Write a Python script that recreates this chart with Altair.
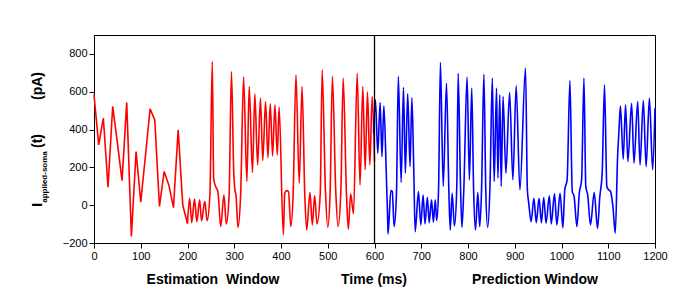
import altair as alt
import pandas as pd

# ---- data ----
# Estimation window, coarse part (0-200 ms, piecewise linear)
est_coarse_t = [0, 10, 20, 30, 40, 50, 60, 70, 80, 90, 100, 110, 120, 130, 140, 150, 160, 170, 180, 190, 200]
est_coarse_v = [584, 319, 460, 95, 522, 330, 130, 543, -166, 284, 16, 260, 509, 451, -7, 178, 107, -13, 398, -2, -97]

# Estimation window, smooth part (200-600 ms)
est_t = [200, 204.6, 209, 215, 220, 226, 230, 237, 242, 248, 253, 256, 260, 265, 271, 278, 283, 289, 294,
         299, 301, 304, 308, 314, 320, 327, 332, 339, 344, 350, 356, 361, 367, 372, 377, 382, 387, 392, 396,
         405, 408, 412, 416, 421, 426, 432, 439, 445, 451, 455, 462, 467, 472, 477, 484, 488, 495, 500, 505,
         510, 517, 522, 528, 533, 540, 544, 549, 555, 563, 569, 575, 580, 585, 590, 595, 600]
est_v = [-97, 37, -92, 32, -87, 28, -83, 20, -82, 62, 760, 140, 100, 72, -113, 54, -99, 54, 707,
         169, 90, 46, -117, 81, 677, 125, 628, 173, 589, 213, 566, 236, 548, 252, 536, 261, 531, 266, 518,
         -157, 63, 77, 72, -113, 63, 689, 116, 628, 45, -131, 67, -104, 51, -99, 63, 716, 81, -117, 63,
         681, 81, -113, 72, 672, 63, -127, 60, -45, 698, 107, 628, 187, 598, 213, 575, 231]

# Prediction window (600-1200 ms)
pred_t = [598, 602, 607, 612, 616, 620, 625, 628, 629, 635, 638, 642, 647, 651, 657, 662, 666, 671, 676,
          680, 684, 687, 694, 699, 704, 708, 713, 717, 722, 726, 730, 733, 737, 741, 747, 754, 759, 762,
          766, 771, 776, 779, 784, 787, 791, 798, 803, 808, 812, 816, 821, 825, 829, 834, 838, 842, 847,
          852, 856, 861, 864, 868, 871, 875, 881, 889, 896, 903, 911, 923, 927, 930, 935, 941, 946, 952,
          957, 962, 967, 974, 978, 985, 990, 997, 1003, 1007, 1012, 1018, 1023, 1027, 1033, 1038, 1043,
          1048, 1052, 1056, 1062, 1070, 1077, 1082, 1087, 1092, 1097, 1101, 1105, 1110, 1115, 1120, 1123,
          1126, 1132, 1137, 1142, 1150, 1155, 1163, 1168, 1175, 1181, 1188, 1195, 1200]
pred_v = [380, 557, 275, 543, 257, 525, 187, -60, -152, 77, 72, -113, 63, 681, 120, 624, 169, 589, 204,
          568, 187, -140, 72, -104, 54, -99, 42, -92, 28, -90, 28, -81, 81, 755, 99, 645, 81, -131,
          63, -110, 99, 698, 99, -117, 81, 677, 134, 619, 81, -131, 67, -113, 81, 693, 81, -117, 99,
          672, 125, 619, 143, 584, 99, 575, 169, 596, 134, 631, 81, 725, 81, 10, -87, 37, -92, 37,
          -92, 40, -95, 49, -99, 60, -104, 63, -120, 81, 134, 659, 72, 46, -113, 63, 134,
          672, 99, 54, -104, 67, -122, 46, 169, 636, 99, 81, 72, -7, -148, 257, 398,
          525, 243, 531, 231, 539, 222, 548, 213, 554, 204, 566, 187, 513]

x_ticks = list(range(0, 1201, 50))
y_ticks = list(range(-200, 801, 100))
divider_t = [600]

df_coarse = pd.DataFrame({"t": est_coarse_t, "v": est_coarse_v})
df_est = pd.DataFrame({"t": est_t, "v": est_v})
df_pred = pd.DataFrame({"t": pred_t, "v": pred_v})
df_div = pd.DataFrame({"t": divider_t})

FONT = "Liberation Sans"

x_enc = alt.X("t:Q", scale=alt.Scale(domain=[0, 1200], nice=False, zero=False),
              axis=alt.Axis(title=None, values=x_ticks, grid=False, format="d",
                            labelExpr="datum.value % 100 === 0 ? datum.label : ''",
                            tickSize={"condition": {"test": "datum.value % 100 === 0", "value": 5}, "value": 3},
                            labelPadding=2, labelFlush=False, labelOverlap=False,
                            domainColor="black", tickColor="black", labelColor="black",
                            labelFont=FONT, labelFontSize=11))
y_enc = alt.Y("v:Q", scale=alt.Scale(domain=[-200, 900], nice=False, zero=False),
              axis=alt.Axis(title=None, values=y_ticks, grid=False, format="d",
                            labelExpr="datum.value % 200 === 0 ? datum.label : ''",
                            tickSize={"condition": {"test": "datum.value % 200 === 0", "value": 5}, "value": 3},
                            labelPadding=2, labelFlush=False, labelOverlap=False,
                            domainColor="black", tickColor="black", labelColor="black",
                            labelFont=FONT, labelFontSize=11))

red1 = alt.Chart(df_coarse).mark_line(color="#FF0000", strokeWidth=1.6).encode(x=x_enc, y=y_enc)
red2 = alt.Chart(df_est).mark_line(color="#FF0000", strokeWidth=1.6, interpolate="monotone").encode(x="t:Q", y="v:Q")
blue = alt.Chart(df_pred).mark_line(color="#0000FF", strokeWidth=1.6, interpolate="monotone").encode(x="t:Q", y="v:Q")
divider = alt.Chart(df_div).mark_rule(color="black", strokeWidth=1.3).encode(x="t:Q")


def label(text, x, y, size, angle=0):
    return alt.Chart(alt.Data(values=[{}])).mark_text(
        text=text, font=FONT, fontWeight="bold", fontSize=size, angle=angle,
        align="center", baseline="middle", color="black"
    ).encode(x=alt.value(x), y=alt.value(y))


texts = [
    label("I", -57, 170, 15, 270),
    label("applied-soma", -49.5, 142, 8, 270),
    label("(t)", -56, 106, 14, 270),
    label("(pA)", -56.5, 51, 14, 270),
    label("Estimation\u00a0\u00a0Window", 119, 245, 14),
    label("Time (ms)", 280, 245, 14),
    label("Prediction Window", 441, 245, 14),
]

chart = alt.layer(red1, red2, blue, divider, *texts).properties(
    width=561, height=208,
    autosize=alt.AutoSizeParams(type="none"),
    padding={"left": 86, "top": 27, "right": 26, "bottom": 50},
).configure_view(stroke="black", strokeWidth=1)

chart.save("out.html", embed_options={"renderer": "svg", "actions": False})
